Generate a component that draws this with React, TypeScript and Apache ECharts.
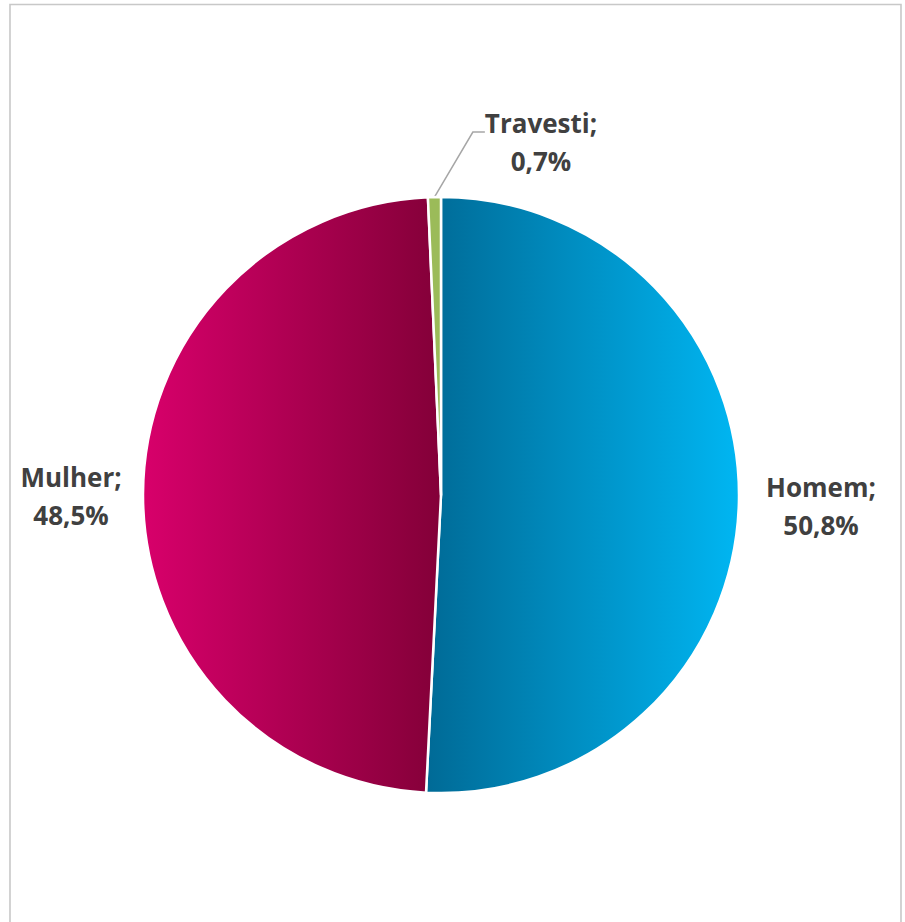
import React, { useEffect, useRef } from "react";
import * as echarts from "echarts";

const categories = ["Homem", "Mulher", "Travesti"];
const values = [50.8, 48.5, 0.7];
const valueLabels = ["50,8%", "48,5%", "0,7%"];

export default function App() {
  const ref = useRef<HTMLDivElement>(null);

  useEffect(() => {
    const chart = echarts.init(ref.current!, null, { renderer: "svg" });

    const fills = [
      new echarts.graphic.LinearGradient(0, 0, 1, 0, [
        { offset: 0, color: "#006a96" },
        { offset: 1, color: "#00b6f2" },
      ]),
      new echarts.graphic.LinearGradient(0, 0, 1, 0, [
        { offset: 0, color: "#d8006b" },
        { offset: 1, color: "#830038" },
      ]),
      "#9bbb59",
    ];

    const labelPos = [
      { x: 821, y: 506 },
      { x: 71, y: 496 },
      { x: 541, y: 132 },
    ];

    chart.setOption({
      animation: false,
      graphic: [
        {
          type: "rect",
          silent: true,
          shape: { x: 10, y: 4.5, width: 891, height: 960 },
          style: { fill: "none", stroke: "#c8c8c8", lineWidth: 1.6 },
        },
      ],
      series: [
        {
          type: "pie",
          center: [441, 495],
          radius: 298,
          startAngle: 90,
          clockwise: true,
          avoidLabelOverlap: false,
          itemStyle: { borderColor: "#ffffff", borderWidth: 2.5 },
          label: {
            show: true,
            position: "outside",
            fontFamily: "Open Sans",
            fontSize: 26,
            fontWeight: "bold",
            color: "#404040",
            lineHeight: 38,
            align: "center",
            rich: {
              s: { fontSize: 1, lineHeight: 20 },
            },
            formatter: (p: any) =>
              (p.dataIndex === 2 ? "{s|\u00a0}\n" : "") +
              `${p.name};\n${valueLabels[p.dataIndex]}`,
          },
          labelLine: { show: false },
          labelLayout: (p: any) => ({
            x: labelPos[p.dataIndex].x,
            y: labelPos[p.dataIndex].y,
            align: "center",
            verticalAlign: "middle",
          }),
          data: categories.map((name, i) => ({
            name,
            value: values[i],
            itemStyle: { color: fills[i] },
            labelLine:
              i === 2
                ? {
                    show: true,
                    length: 40,
                    length2: 12,
                    smooth: false,
                    lineStyle: { color: "#a6a6a6", width: 1.5 },
                  }
                : { show: false },
          })),
        },
      ],
    });

    return () => chart.dispose();
  }, []);

  return (
    <div
      ref={ref}
      style={{ position: "fixed", left: 0, top: 0, width: 905, height: 922, background: "#ffffff" }}
    />
  );
}
